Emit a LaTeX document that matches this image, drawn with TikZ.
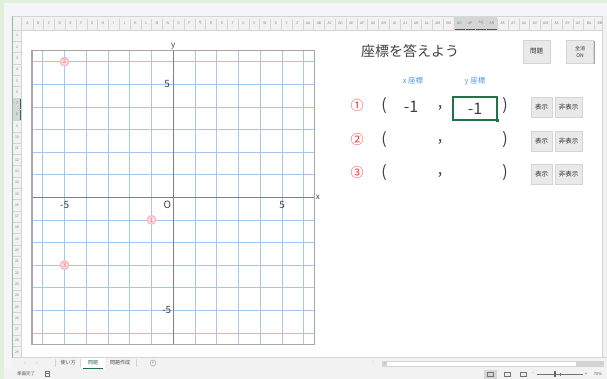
\documentclass[tikz,border=0pt]{standalone}
\usepackage{fontspec}
\setmainfont{Noto Sans CJK JP}
\newfontfamily\symfont{DejaVu Sans}
\usetikzlibrary{shadows}
\definecolor{bggreen}{HTML}{E2EFDA}
\definecolor{winbg}{HTML}{F3F5F9}
\definecolor{headgray}{HTML}{F2F2F2}
\definecolor{selgray}{HTML}{D6D6D6}
\definecolor{linegray}{HTML}{D4D4D4}
\definecolor{exgreen}{HTML}{217346}
\definecolor{gridblue}{HTML}{A4C8EC}
\definecolor{axisgray}{HTML}{808080}
\definecolor{framegray}{HTML}{A6A6A6}
\definecolor{labelgray}{HTML}{404040}
\definecolor{headblue}{HTML}{5B9BD5}
\definecolor{qred}{HTML}{FF3030}
\definecolor{ptpink}{HTML}{F7B9C6}
\definecolor{btngray}{HTML}{E9E9E9}
\definecolor{shadowgray}{HTML}{8E8E8E}
\tikzset{
  colhead/.style={font=\fontsize{3.5}{3.5}\selectfont, text=gray, inner sep=0pt},
  rowhead/.style={font=\fontsize{3.5}{3.5}\selectfont, text=gray, inner sep=0pt},
  headsep/.style={draw=linegray, line width=0.3pt},
  gridline/.style={draw=gridblue, line width=0.7pt},
  axisline/.style={draw=axisgray, line width=1.1pt},
  frameline/.style={draw=framegray, line width=1.4pt},
  ticklabel/.style={font=\fontsize{10}{10}\selectfont, text=labelgray, inner sep=1pt},
  axlabel/.style={font=\fontsize{8}{8}\selectfont, text=labelgray, inner sep=1pt},
  ptmark/.style={circle, draw=ptpink, line width=1.3pt, fill=ptpink!45,
    minimum size=8.5pt, inner sep=0pt,
    font=\fontsize{6}{6}\selectfont, text=qred!80},
  titletext/.style={font=\fontsize{14}{14}\selectfont, text=labelgray},
  coordhead/.style={font=\fontsize{7.5}{7.5}\selectfont, text=headblue},
  qnum/.style={font=\fontsize{13}{13}\selectfont, text=qred},
  paren/.style={font=\fontsize{16}{16}\selectfont, text=labelgray, inner sep=0pt},
  btn/.style={draw=linegray, fill=btngray, inner sep=0pt, align=center,
    font=\fontsize{6.5}{7}\selectfont, text=black!80,
    drop shadow={shadow xshift=1pt, shadow yshift=-1pt, fill=shadowgray, opacity=0.8}},
  selcell/.style={draw=exgreen, line width=1.1pt, minimum width=44pt,
    minimum height=23pt, inner sep=0pt, font=\fontsize{16}{16}\selectfont, text=labelgray},
  tabtext/.style={font=\fontsize{5}{5}\selectfont, text=black!70, inner sep=0pt},
  barsmall/.style={font=\fontsize{4.5}{4.5}\selectfont, text=black!65, inner sep=0pt},
}
\begin{document}
\begin{tikzpicture}[x=1pt,y=-1pt]
\useasboundingbox (0,0) rectangle (607,379);
% window
\fill[bggreen] (0,0) rectangle (607,379);
\fill[winbg] (4,3) rectangle (607,379);
\fill[headgray] (13,16) rectangle (602,30);
\fill[headgray] (13,30) rectangle (21,357.5);
\fill[white] (21,30) rectangle (602,357.5);
\draw[exgreen!50] (12.5,16) -- (12.5,357.5);
\draw[linegray] (13,16) -- (602,16) (13,30) -- (602,30) (21,16) -- (21,357.5);
% selected headers
\fill[selgray] (454,16) rectangle (497.2,30);
\draw[exgreen, line width=1pt] (454,29.5) -- (497.2,29.5);
\fill[selgray] (13,97.8) rectangle (21,120.4);
\draw[exgreen, line width=1pt] (20.5,97.8) -- (20.5,120.4);
% column and row headers
\foreach \c [count=\i] in {A,B,...,Z}
  \node[colhead] (col\i) at ({22+(\i-0.5)*10.8},23) {\c};
\foreach \c [count=\i from 27] in {A,B,...,Z}
  \node[colhead] (col\i) at ({22+(\i-0.5)*10.8},23) {A\c};
\foreach \c [count=\i from 53] in {A,B}
  \node[colhead] (col\i) at ({22+(\i-0.5)*10.8},23) {B\c};
\foreach \i in {1,...,53}
  \draw[headsep] ({22+\i*10.8},19) -- ({22+\i*10.8},30);
\foreach \r in {1,...,29} {
  \node[rowhead] (row\r) at (17,{30+(\r-0.5)*11.3}) {\r};
  \draw[headsep] (13,{30+\r*11.3}) -- (21,{30+\r*11.3});
}
% coordinate plane
\begin{scope}[shift={(173.3,197.3)}, x=21.75pt, y=22.6pt]
  \draw[gridline, step=1] (-6.5,-6.5) grid (6.5,6.5);
  \draw[axisline] (-6.5,0) -- (6.5,0) (0,-6.5) -- (0,6.5);
  \draw[frameline] (-6.5,-6.5) rectangle (6.5,6.5);
  \node[axlabel, anchor=south] (ylab) at (0,6.5) {y};
  \node[axlabel, anchor=west] (xlab) at (6.5,0) {x};
  \node[ticklabel] (orig) at (-0.28,-0.32) {O};
  \node[ticklabel] (xpos) at (5,-0.32) {5};
  \node[ticklabel] (xneg) at (-5,-0.32) {-5};
  \node[ticklabel] (ypos) at (-0.28,5) {5};
  \node[ticklabel] (yneg) at (-0.3,-5) {-5};
  \node[ptmark] (p1) at (-1,-1) {1};
  \node[ptmark] (p2) at (-5,6) {2};
  \node[ptmark] (p3) at (-5,-3) {3};
\end{scope}
% answer panel
\node[titletext] (title) at (410,51.5) {座標を答えよう};
\node[btn, minimum width=27pt, minimum height=23pt] (qbtn) at (536.5,51.5) {問題};
\node[btn, minimum width=27pt, minimum height=23pt,
  font=\fontsize{5}{7}\selectfont] (clrbtn) at (580,51.5) {全消\\ON};
\node[coordhead] (xhead) at (413,81) {x 座標};
\node[coordhead] (yhead) at (475,81) {y 座標};
\foreach \k/\yy/\num in {1/106/①, 2/140/②, 3/173/③} {
  \node[qnum] (q\k) at (357,\yy) {\num};
  \node[paren] (lp\k) at (384,\yy) {(};
  \node[paren] (cm\k) at (440,{\yy+2}) {,};
  \node[paren] (rp\k) at (505,\yy) {)};
  \node[btn, minimum width=21pt, minimum height=20pt] (show\k) at (541.5,{\yy+1}) {表示};
  \node[btn, minimum width=27pt, minimum height=20pt] (hide\k) at (568.5,{\yy+1}) {非表示};
}
\node[paren] (xv1) at (411,106.5) {-1};
\node[selcell] (yv1) at (475,108.5) {-1};
\fill[exgreen] (yv1.south east) ++(-1.5,-1.5) rectangle ++(3,3);
% right scrollbar
\fill[headgray] (602,16) rectangle (607,357.5);
\draw[linegray] (602,16) -- (602,369);
% sheet tabs
\fill[headgray] (13,357.5) rectangle (607,369);
\draw[linegray] (13,357.5) -- (607,357.5);
\node[barsmall, text=black!30] (navl) at (25,363) {‹};
\node[barsmall, text=black!30] (navr) at (37,363) {›};
\draw[linegray] (55,359) -- (55,367) (80,359) -- (80,367) (136,359) -- (136,367);
\node[tabtext] (tab1) at (68,363) {使い方};
\fill[white] (81,357.5) rectangle (105,369);
\node[tabtext, text=exgreen] (tab2) at (93,363) {問題};
\draw[exgreen, line width=1pt] (83,368.3) -- (103,368.3);
\node[tabtext] (tab3) at (120,363) {問題作成};
\node[circle, draw=black!40, minimum size=6pt, inner sep=0pt,
  font=\fontsize{5}{5}\selectfont, text=black!50] (addsheet) at (153,363) {+};
\node[barsmall, text=black!30, font=\symfont\fontsize{4.5}{4.5}\selectfont] (hsplit) at (373,363) {⋮};
\fill[linegray] (382,361) rectangle (604,367);
\fill[white] (387,361.8) rectangle (576,366.2);
\node[barsmall, font=\fontsize{3}{3}\selectfont] (hsl) at (384.5,364) {‹};
\node[barsmall, font=\fontsize{3}{3}\selectfont] (hsr) at (601,364) {›};
% status bar
\fill[headgray] (4,369) rectangle (607,379);
\node[barsmall] (ready) at (26,374) {準備完了};
\draw[black!55, line width=0.4pt] (45,371.5) rectangle (49.5,376.5) (45.8,373) -- (48.7,373);
\fill[selgray] (484,369.5) rectangle (497,378.5);
\foreach \vx in {490,507,523}
  \draw[black!55, line width=0.4pt] (\vx-3,371.8) rectangle (\vx+3,376.2);
\node[barsmall] (zminus) at (533,374) {-};
\draw[black!55, line width=0.4pt] (537,374) -- (583,374) (560,372.5) -- (560,375.5);
\fill[black!60] (553.5,371) rectangle (555.5,377);
\node[barsmall] (zplus) at (586,374) {+};
\node[barsmall, font=\fontsize{4}{4}\selectfont] (zoomval) at (598,374) {70\%};
\end{tikzpicture}
\end{document}
